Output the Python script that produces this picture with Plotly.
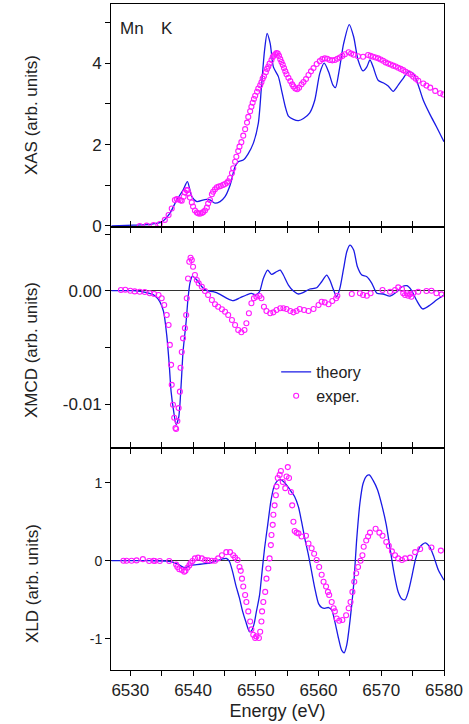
import plotly.graph_objects as go

# ---------------- data ----------------
xas_th_e = [6527.0, 6530.5, 6533.1, 6535.0, 6536.3, 6537.4, 6538.4, 6539.1, 6539.8, 6540.6, 6541.9, 6542.7,
            6543.5, 6544.3, 6545.1, 6545.9, 6546.7, 6547.2, 6548.0, 6548.8, 6549.6, 6550.4, 6550.9, 6551.4,
            6551.8, 6552.3, 6552.8, 6553.6, 6554.1, 6554.7, 6555.2, 6556.0, 6556.8, 6557.6, 6558.6, 6559.4,
            6560.2, 6560.9, 6561.6, 6562.3, 6562.7, 6563.3, 6564.0, 6564.9, 6565.6, 6566.3, 6567.1, 6567.7,
            6568.2, 6568.7, 6569.5, 6570.3, 6571.1, 6571.9, 6572.7, 6573.5, 6574.3, 6575.1, 6575.9, 6576.7,
            6577.8, 6578.8, 6580.0]
xas_th = [0.0, 0.02, 0.04, 0.10, 0.31, 0.64, 0.88, 1.09, 0.72, 0.60, 0.65, 0.64,
          0.56, 0.60, 0.72, 1.00, 1.46, 1.58, 1.62, 1.78, 2.03, 2.52, 3.42, 4.32,
          4.73, 4.48, 3.91, 3.67, 3.34, 2.93, 2.70, 2.62, 2.59, 2.64, 2.78, 3.09,
          3.75, 4.00, 3.79, 3.46, 3.40, 3.83, 4.48, 4.95, 4.65, 4.08, 3.81, 3.91,
          4.08, 3.91, 3.58, 3.52, 3.44, 3.31, 3.46, 3.63, 3.79, 3.75, 3.46, 3.09,
          2.73, 2.44, 2.07]

xas_ex_e = [6531.5, 6532.6, 6533.7, 6534.7, 6535.5, 6536.1, 6536.6, 6537.1, 6537.4, 6537.7, 6538.0, 6538.2,
            6538.5, 6538.7, 6539.0, 6539.1, 6539.3, 6539.5, 6539.8, 6540.0, 6540.3, 6540.6, 6540.8, 6541.1,
            6541.4, 6541.6, 6541.9, 6542.2, 6542.4, 6542.7, 6543.0, 6543.2, 6543.5, 6543.8, 6544.1, 6544.4,
            6544.8, 6545.1, 6545.4, 6545.6, 6545.9, 6546.2, 6546.4, 6546.7, 6546.9, 6547.2, 6547.4, 6547.7,
            6548.0, 6548.3, 6548.6, 6548.8, 6549.1, 6549.3, 6549.5, 6549.7, 6549.9, 6550.2, 6550.4, 6550.7,
            6550.9, 6551.1, 6551.3, 6551.6, 6551.8, 6552.0, 6552.2, 6552.5, 6552.7, 6552.9, 6553.1, 6553.3,
            6553.5, 6553.7, 6553.9, 6554.1, 6554.3, 6554.5, 6554.7, 6554.9, 6555.2, 6555.5, 6555.8, 6556.0,
            6556.3, 6556.6, 6556.9, 6557.3, 6557.6, 6558.0, 6558.4, 6558.8, 6559.2, 6559.7, 6560.2, 6560.6,
            6561.0, 6561.4, 6561.8, 6562.2, 6562.6, 6563.0, 6563.4, 6563.8, 6564.2, 6564.8, 6565.2, 6565.6,
            6566.3, 6567.1, 6567.9, 6568.3, 6568.7, 6569.1, 6569.5, 6569.9, 6570.3, 6570.7, 6571.1, 6571.5,
            6571.9, 6572.3, 6572.7, 6573.1, 6573.5, 6573.9, 6574.3, 6574.7, 6575.1, 6575.5, 6575.9, 6576.7,
            6577.2, 6577.8, 6578.6, 6579.4, 6579.9]
xas_ex = [0.00, 0.01, 0.02, 0.05, 0.15, 0.27, 0.43, 0.64, 0.66, 0.65, 0.63, 0.62,
          0.72, 0.82, 0.88, 0.88, 0.80, 0.70, 0.58, 0.48, 0.38, 0.33, 0.31, 0.30,
          0.32, 0.34, 0.38, 0.45, 0.55, 0.64, 0.78, 0.84, 0.90, 0.95, 0.97, 0.98,
          1.01, 1.03, 1.06, 1.10, 1.18, 1.30, 1.42, 1.58, 1.70, 1.84, 1.95, 2.06,
          2.22, 2.38, 2.54, 2.68, 2.82, 2.93, 3.03, 3.12, 3.20, 3.30, 3.38, 3.46,
          3.53, 3.62, 3.68, 3.78, 3.86, 3.92, 3.99, 4.08, 4.15, 4.19, 4.22, 4.25,
          4.24, 4.18, 4.10, 4.03, 3.96, 3.88, 3.80, 3.73, 3.64, 3.56, 3.48, 3.43,
          3.38, 3.36, 3.40, 3.48, 3.54, 3.61, 3.71, 3.80, 3.88, 3.98, 4.05, 4.10,
          4.12, 4.11, 4.08, 4.07, 4.08, 4.11, 4.14, 4.18, 4.22, 4.27, 4.24, 4.21,
          4.17, 4.16, 4.20, 4.18, 4.16, 4.14, 4.12, 4.09, 4.06, 4.02, 3.99, 3.97,
          3.94, 3.92, 3.89, 3.86, 3.83, 3.79, 3.76, 3.72, 3.67, 3.62, 3.57, 3.50,
          3.45, 3.40, 3.32, 3.26, 3.23]

xmcd_th_e = [6527.0, 6530.5, 6532.6, 6533.9, 6534.7, 6535.3, 6535.8, 6536.2, 6536.5, 6536.9, 6537.3, 6537.7,
             6538.1, 6538.4, 6538.9, 6539.2, 6539.5, 6539.9, 6540.6, 6541.4, 6542.2, 6543.2, 6544.3, 6545.4,
             6546.4, 6547.5, 6548.5, 6549.3, 6550.0, 6550.6, 6551.2, 6551.9, 6552.5, 6553.3, 6553.9, 6554.4,
             6555.2, 6556.0, 6556.8, 6557.6, 6558.6, 6559.7, 6560.5, 6561.3, 6561.8, 6562.4, 6562.9, 6563.4,
             6564.0, 6564.5, 6565.0, 6565.6, 6566.2, 6566.9, 6567.7, 6568.5, 6569.3, 6570.3, 6571.4, 6572.5,
             6573.3, 6574.1, 6574.8, 6575.6, 6576.6, 6577.8, 6578.8, 6580.0]
xmcd_th = [0.0, 0.0, -0.00018, -0.00044, -0.00097, -0.00185, -0.0039, -0.0065, -0.0089, -0.0106, -0.0118, -0.0112,
           -0.0083, -0.0054, -0.0027, -0.00067, 0.00065, 0.00129, 0.00094, 0.00035, 0.0, -0.00009, -0.00032, -0.00067,
           -0.00088, -0.00062, -0.00038, -0.00023, -0.00038, -0.00009, 0.00108, 0.00182, 0.00144, 0.00167, 0.00182, 0.00138,
           0.0005, -0.00003, -0.00029, -0.00015, 0.00015, 0.00026, 0.00079, 0.00138, 0.00094, 0.00006, -0.00053, 0.0002,
           0.00196, 0.00343, 0.00402, 0.00358, 0.00211, 0.00138, 0.00123, 0.00065, -0.00023, -0.00029, -0.00047, -0.00009,
           0.00035, 0.00044, 0.00006, -0.00082, -0.00161, -0.00126, -0.00082, -0.00038]

xmcd_ex_e = [6528.5, 6529.2, 6530.0, 6530.7, 6531.5, 6532.3, 6533.1, 6533.8, 6534.5, 6535.0, 6535.4, 6535.8,
             6536.1, 6536.3, 6536.5, 6536.6, 6536.8, 6537.0, 6537.2, 6537.3, 6537.5, 6537.7, 6537.9, 6538.0,
             6538.2, 6538.4, 6538.7, 6538.9, 6539.0, 6539.2, 6539.4, 6539.6, 6539.8, 6540.0, 6540.3, 6540.6,
             6540.9, 6541.4, 6541.9, 6542.4, 6543.0, 6543.5, 6544.0, 6544.6, 6545.1, 6545.6, 6546.2, 6546.7,
             6547.2, 6547.7, 6548.2, 6548.5, 6548.9, 6549.3, 6549.7, 6550.1, 6550.6, 6550.9, 6551.3, 6551.7,
             6552.3, 6552.8, 6553.3, 6553.9, 6554.4, 6554.9, 6555.5, 6556.0, 6556.5, 6557.0, 6557.7, 6558.4,
             6559.2, 6560.0, 6560.5, 6561.0, 6561.6, 6562.2, 6562.8, 6563.0, 6565.3, 6566.6, 6567.1, 6567.7,
             6568.3, 6570.2, 6571.4, 6572.2, 6572.7, 6573.3, 6573.5, 6573.8, 6574.1, 6574.3, 6574.6, 6574.8,
             6575.1, 6575.9, 6577.2, 6578.0, 6578.8, 6579.6]
xmcd_ex = [0.00006, 0.00009, 0.0, -0.00006, -0.00009, -0.00012, -0.00023, -0.00029, -0.00038, -0.00067, -0.00126, -0.00214,
           -0.00302, -0.00478, -0.00654, -0.0083, -0.01006, -0.0112, -0.0121, -0.0122, -0.0115, -0.01035, -0.0089, -0.0068,
           -0.0054, -0.0042, -0.0033, -0.00214, -0.00067, 0.00108, 0.00255, 0.0029, 0.0027, 0.00211, 0.00138, 0.00094,
           0.00065, 0.00035, -0.00003, -0.00038, -0.00082, -0.0012, -0.00141, -0.00164, -0.00185, -0.00214, -0.00258, -0.00302,
           -0.00346, -0.00367, -0.00346, -0.00287, -0.00199, -0.00111, -0.00067, -0.00053, -0.00047, -0.00067, -0.00141, -0.00179,
           -0.00199, -0.00191, -0.0017, -0.00155, -0.00155, -0.00161, -0.00179, -0.00191, -0.00179, -0.00161, -0.0017, -0.00179,
           -0.00161, -0.00126, -0.00097, -0.00103, -0.0012, -0.00091, -0.00067, -0.00044, -0.00029, -0.00023, -0.00038, -0.00044,
           -0.00023, 0.00006, -0.00009, 0.00006, 0.00029, 0.00015, -0.00023, -0.00038, -0.00023, -0.00044, -0.00032, -0.00053,
           -0.00023, -0.00009, -0.00003, 0.0, -0.00023, -0.00032]

xld_th_e = [6527.0, 6533.1, 6535.8, 6536.9, 6537.9, 6538.7, 6539.5, 6540.6, 6541.6, 6542.7, 6543.8, 6544.6,
            6545.3, 6545.8, 6546.3, 6546.8, 6547.4, 6547.9, 6548.4, 6549.0, 6549.3, 6549.7, 6550.1, 6550.6,
            6551.0, 6551.4, 6551.9, 6552.4, 6552.9, 6553.4, 6553.9, 6554.5, 6555.1, 6555.7, 6556.2, 6556.8,
            6557.3, 6557.8, 6558.4, 6558.9, 6559.4, 6560.0, 6560.5, 6561.0, 6561.6, 6562.1, 6562.6, 6563.2,
            6563.7, 6564.1, 6564.5, 6565.0, 6565.6, 6566.1, 6566.6, 6567.1, 6567.7, 6568.1, 6568.7, 6569.4,
            6570.1, 6570.8, 6571.4, 6572.0, 6572.7, 6573.3, 6573.8, 6574.3, 6574.8, 6575.5, 6576.2, 6577.0,
            6577.7, 6578.3, 6579.1, 6580.0]
xld_th = [0.0, 0.0, -0.004, -0.02, -0.06, -0.09, -0.06, -0.05, -0.04, -0.03, 0.0, 0.02,
          0.03, -0.01, -0.14, -0.31, -0.48, -0.65, -0.78, -0.91, -0.90, -0.82, -0.65, -0.44,
          -0.14, 0.16, 0.46, 0.76, 0.95, 1.02, 1.04, 1.01, 0.95, 0.88, 0.82, 0.69,
          0.50, 0.29, 0.07, -0.14, -0.35, -0.55, -0.60, -0.61, -0.60, -0.63, -0.78, -1.00,
          -1.15, -1.18, -1.08, -0.78, -0.31, 0.29, 0.74, 0.99, 1.09, 1.10, 1.03, 0.91,
          0.71, 0.46, 0.16, -0.14, -0.40, -0.49, -0.50, -0.40, -0.23, 0.03, 0.18, 0.23,
          0.18, 0.07, -0.12, -0.25]

xld_ex_e = [6528.9, 6529.4, 6530.2, 6531.0, 6532.0, 6533.0, 6533.7, 6533.9, 6534.7, 6536.2, 6537.3, 6537.5,
            6537.8, 6538.2, 6538.6, 6538.8, 6539.1, 6539.4, 6539.6, 6539.9, 6540.3, 6540.8, 6541.4, 6541.9,
            6542.4, 6543.0, 6543.5, 6544.0, 6544.6, 6545.3, 6545.9, 6546.4, 6546.7, 6547.1, 6547.4, 6547.6,
            6547.8, 6548.0, 6548.3, 6548.5, 6548.8, 6549.1, 6549.3, 6549.6, 6549.9, 6550.1, 6550.5, 6550.7,
            6550.9, 6551.0, 6551.2, 6551.5, 6551.7, 6552.0, 6552.2, 6552.4, 6552.5, 6552.7, 6552.8, 6553.0,
            6553.2, 6553.3, 6553.5, 6553.8, 6554.0, 6554.3, 6554.7, 6554.9, 6555.1, 6555.3, 6555.6, 6555.8,
            6556.0, 6556.2, 6556.5, 6556.8, 6557.3, 6558.0, 6558.4, 6558.9, 6559.3, 6559.7, 6560.1, 6560.5,
            6560.8, 6561.2, 6561.5, 6561.7, 6562.1, 6562.4, 6562.6, 6562.9, 6563.3, 6563.8, 6564.4, 6564.8,
            6565.1, 6565.4, 6565.7, 6566.0, 6566.3, 6566.7, 6567.0, 6567.2, 6567.6, 6567.9, 6568.2, 6569.1,
            6569.7, 6570.2, 6570.8, 6571.2, 6571.7, 6572.2, 6572.7, 6573.3, 6573.8, 6574.6, 6575.4, 6576.2,
            6578.0, 6579.5]
xld_ex = [0.0, 0.0, 0.0, 0.004, 0.02, -0.004, 0.0, -0.004, -0.004, -0.004, -0.05, -0.08,
          -0.11, -0.12, -0.14, -0.13, -0.09, -0.06, -0.03, -0.004, 0.03, 0.04, 0.03, 0.01,
          0.004, 0.0, 0.0, 0.03, 0.07, 0.11, 0.11, 0.07, 0.04, 0.01, -0.08, -0.13,
          -0.23, -0.33, -0.44, -0.53, -0.65, -0.78, -0.88, -0.95, -0.99, -0.97, -0.99, -0.91,
          -0.78, -0.65, -0.53, -0.40, -0.23, -0.10, 0.03, 0.20, 0.33, 0.46, 0.59, 0.71,
          0.84, 0.95, 1.06, 1.10, 1.15, 1.01, 0.93, 1.08, 1.20, 1.06, 0.88, 0.71,
          0.50, 0.38, 0.36, 0.35, 0.31, 0.32, 0.22, 0.16, 0.09, 0.01, -0.08, -0.18,
          -0.27, -0.33, -0.40, -0.44, -0.53, -0.61, -0.65, -0.74, -0.77, -0.76, -0.70, -0.61,
          -0.53, -0.40, -0.27, -0.16, -0.08, 0.0, 0.07, 0.18, 0.26, 0.31, 0.36, 0.41,
          0.36, 0.32, 0.24, 0.19, 0.12, 0.07, 0.03, 0.01, 0.03, 0.04, 0.11, 0.15,
          0.17, 0.13]

x_tickvals = [6530, 6535, 6540, 6545, 6550, 6555, 6560, 6565, 6570, 6575, 6580]
x_ticktext = ["6530", "", "6540", "", "6550", "", "6560", "", "6570", "", "6580"]
xas_tickvals = [0, 1, 2, 3, 4, 5]
xas_ticktext = ["0", "", "2", "", "4", ""]
xmcd_tickvals = [-0.01, -0.005, 0.0, 0.005]
xmcd_ticktext = ["-0.01", "", "0.00", ""]
xld_tickvals = [-1, 0, 1]
xld_ticktext = ["-1", "0", "1"]

# ---------------- style ----------------
BLUE = "#1a1ae6"
MAG = "#ff19ff"
FONT = "Liberation Sans"
TXT = "#222222"

fig = go.Figure()

def add_pair(e_th, v_th, e_ex, v_ex, xa, ya, show):
    fig.add_trace(go.Scatter(x=e_th, y=v_th, mode="lines", name="theory",
                             line=dict(color=BLUE, width=1.3, shape="spline", smoothing=0.7),
                             xaxis=xa, yaxis=ya, showlegend=show))
    fig.add_trace(go.Scatter(x=e_ex, y=v_ex, mode="markers", name="exper.",
                             marker=dict(symbol="circle-open", size=5, color=MAG, line=dict(width=1.1, color=MAG)),
                             xaxis=xa, yaxis=ya, showlegend=show))

add_pair(xas_th_e, xas_th, xas_ex_e, xas_ex, "x", "y", False)
add_pair(xmcd_th_e, xmcd_th, xmcd_ex_e, xmcd_ex, "x2", "y2", True)
add_pair(xld_th_e, xld_th, xld_ex_e, xld_ex, "x3", "y3", False)

xcommon = dict(range=[6526.92, 6580], tickvals=x_tickvals, ticks="outside", ticklen=5,
               tickcolor="black", showline=True, linecolor="black", linewidth=1,
               showgrid=False, zeroline=False,
               tickfont=dict(family=FONT, size=17, color=TXT))
ycommon = dict(ticks="outside", ticklen=5, tickcolor="black", showline=True, linecolor="black",
               linewidth=1, mirror=True, showgrid=False)

d1 = 443 / 666
d2 = 222 / 666
title_font = dict(family=FONT, size=17, color=TXT)

fig.update_layout(
    width=469, height=724,
    margin=dict(l=111, r=25, t=4, b=54),
    paper_bgcolor="white", plot_bgcolor="white",
    font=dict(family=FONT, color=TXT),
    xaxis=dict(**xcommon, anchor="y", showticklabels=False, mirror=True),
    xaxis2=dict(**xcommon, anchor="y2", matches="x", showticklabels=False, mirror="ticks"),
    xaxis3=dict(**xcommon, anchor="y3", matches="x", showticklabels=True, mirror="ticks",
                ticktext=x_ticktext,
                title=dict(text="Energy (eV)", font=dict(family=FONT, size=18, color=TXT), standoff=4)),
    yaxis=dict(**ycommon, domain=[d1, 1], range=[-0.025, 5.455], tickvals=xas_tickvals,
               ticktext=xas_ticktext, zeroline=False,
               tickfont=dict(family=FONT, size=17, color=TXT)),
    yaxis2=dict(**ycommon, domain=[d2, d1], range=[-0.01387, 0.005617], tickvals=xmcd_tickvals,
                ticktext=xmcd_ticktext, zeroline=True, zerolinecolor="#333333", zerolinewidth=1,
                tickfont=dict(family=FONT, size=17, color=TXT)),
    yaxis3=dict(**ycommon, domain=[0, d2], range=[-1.401, 1.445], tickvals=xld_tickvals,
                ticktext=xld_ticktext, zeroline=True, zerolinecolor="#333333", zerolinewidth=1,
                tickfont=dict(family=FONT, size=14, color=TXT)),
    legend=dict(x=0.496, y=0.473, xanchor="left", yanchor="top", bgcolor="rgba(0,0,0,0)",
                font=dict(family=FONT, size=16, color=TXT)),
    annotations=[
        dict(text="XAS (arb. units)", x=-0.237, y=(670 - 115) / 666, xref="paper", yref="paper",
             xanchor="center", yanchor="middle", textangle=-90, showarrow=False, font=title_font),
        dict(text="XMCD (arb. units)", x=-0.237, y=(670 - 350) / 666, xref="paper", yref="paper",
             xanchor="center", yanchor="middle", textangle=-90, showarrow=False, font=title_font),
        dict(text="XLD (arb. units)", x=-0.237, y=(670 - 584) / 666, xref="paper", yref="paper",
             xanchor="center", yanchor="middle", textangle=-90, showarrow=False, font=title_font),
        dict(text="Mn", x=(118 - 111) / 333, y=(670 - 29) / 666, xref="paper", yref="paper",
             xanchor="left", yanchor="middle", showarrow=False, font=dict(family=FONT, size=17, color=TXT)),
        dict(text="K", x=(159 - 111) / 333, y=(670 - 29) / 666, xref="paper", yref="paper",
             xanchor="left", yanchor="middle", showarrow=False, font=dict(family=FONT, size=17, color=TXT)),
    ],
)

fig.write_html("out.html", config={"displayModeBar": False},
               post_script="document.body.style.margin='0px';")
